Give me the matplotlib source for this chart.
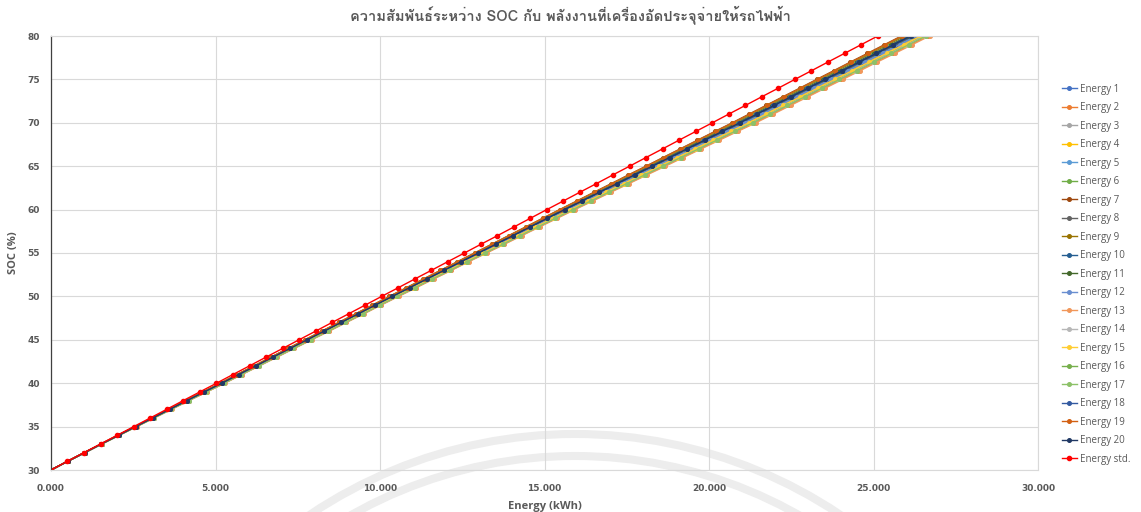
import matplotlib

matplotlib.use("Agg")
import matplotlib.pyplot as plt
from matplotlib import font_manager
from matplotlib.ft2font import FT2Font
from matplotlib.patches import Circle
from matplotlib.ticker import FuncFormatter

# SOC steps (%) at which the charger log was sampled
soc_pct = list(range(30, 81))

# cumulative energy delivered by the charger (kWh) at each SOC step
energy_1 = [0, 0.506, 1.021, 1.537, 2.057, 2.578, 3.104, 3.625, 4.146, 4.677, 5.209, 5.724, 6.250, 6.771, 7.292, 7.813, 8.339, 8.855, 9.381, 9.897, 10.418, 10.944, 11.465, 11.996, 12.517, 13.048, 13.574, 14.100, 14.627, 15.153, 15.679, 16.216, 16.747, 17.289, 17.820, 18.362, 18.894, 19.430, 19.967, 20.503, 21.045, 21.566, 22.087, 22.608, 23.129, 23.650, 24.170, 24.686, 25.212, 25.733, 26.254]
energy_2 = [0, 0.509, 1.028, 1.548, 2.074, 2.600, 3.134, 3.662, 4.190, 4.731, 5.271, 5.793, 6.326, 6.855, 7.381, 7.909, 8.443, 8.964, 9.497, 10.019, 10.547, 11.080, 11.609, 12.149, 12.678, 13.218, 13.754, 14.287, 14.823, 15.358, 15.894, 16.441, 16.984, 17.539, 18.081, 18.636, 19.178, 19.726, 20.276, 20.823, 21.378, 21.906, 22.433, 22.961, 23.487, 24.016, 24.542, 25.063, 25.597, 26.123, 26.649]
energy_3 = [0, 0.507, 1.024, 1.541, 2.064, 2.586, 3.115, 3.639, 4.163, 4.698, 5.232, 5.750, 6.279, 6.803, 7.326, 7.849, 8.378, 8.896, 9.425, 9.943, 10.467, 10.995, 11.519, 12.054, 12.578, 13.112, 13.642, 14.171, 14.701, 15.230, 15.760, 16.301, 16.837, 17.383, 17.919, 18.466, 19.001, 19.542, 20.084, 20.624, 21.171, 21.695, 22.218, 22.741, 23.264, 23.788, 24.311, 24.829, 25.358, 25.880, 26.403]
energy_4 = [0, 0.506, 1.023, 1.539, 2.061, 2.583, 3.111, 3.634, 4.157, 4.690, 5.224, 5.741, 6.269, 6.792, 7.314, 7.836, 8.364, 8.881, 9.409, 9.926, 10.449, 10.977, 11.500, 12.033, 12.556, 13.089, 13.618, 14.146, 14.674, 15.203, 15.731, 16.270, 16.805, 17.350, 17.884, 18.429, 18.963, 19.502, 20.042, 20.581, 21.126, 21.649, 22.171, 22.694, 23.216, 23.739, 24.261, 24.778, 25.306, 25.828, 26.350]
energy_5 = [0, 0.506, 1.022, 1.538, 2.059, 2.580, 3.107, 3.629, 4.151, 4.683, 5.215, 5.732, 6.258, 6.780, 7.302, 7.823, 8.350, 8.867, 9.393, 9.910, 10.432, 10.958, 11.480, 12.012, 12.534, 13.066, 13.594, 14.120, 14.648, 15.175, 15.702, 16.240, 16.773, 17.316, 17.848, 18.392, 18.924, 19.462, 20.000, 20.538, 21.081, 21.603, 22.124, 22.646, 23.167, 23.689, 24.210, 24.727, 25.254, 25.775, 26.296]
energy_6 = [0, 0.508, 1.026, 1.543, 2.068, 2.592, 3.122, 3.648, 4.174, 4.711, 5.248, 5.767, 6.297, 6.823, 7.347, 7.873, 8.403, 8.923, 9.453, 9.972, 10.498, 11.029, 11.554, 12.091, 12.617, 13.154, 13.686, 14.216, 14.748, 15.280, 15.812, 16.356, 16.894, 17.444, 17.982, 18.532, 19.071, 19.614, 20.159, 20.702, 21.252, 21.778, 22.302, 22.827, 23.352, 23.877, 24.401, 24.921, 25.451, 25.975, 26.500]
energy_7 = [0, 0.502, 1.013, 1.525, 2.040, 2.555, 3.074, 3.587, 4.100, 4.622, 5.144, 5.654, 6.172, 6.686, 7.201, 7.714, 8.233, 8.743, 9.261, 9.771, 10.284, 10.803, 11.316, 11.838, 12.351, 12.873, 13.390, 13.908, 14.425, 14.942, 15.459, 15.984, 16.504, 17.032, 17.552, 18.081, 18.601, 19.126, 19.649, 20.175, 20.703, 21.216, 21.731, 22.245, 22.760, 23.273, 23.788, 24.298, 24.817, 25.332, 25.847]
energy_8 = [0, 0.505, 1.020, 1.535, 2.055, 2.575, 3.100, 3.620, 4.140, 4.670, 5.200, 5.715, 6.240, 6.760, 7.280, 7.800, 8.325, 8.840, 9.365, 9.880, 10.400, 10.925, 11.445, 11.975, 12.495, 13.025, 13.550, 14.075, 14.600, 15.125, 15.650, 16.185, 16.715, 17.255, 17.785, 18.325, 18.855, 19.390, 19.925, 20.460, 21.000, 21.520, 22.040, 22.560, 23.080, 23.600, 24.120, 24.635, 25.160, 25.680, 26.200]
energy_9 = [0, 0.503, 1.015, 1.528, 2.045, 2.561, 3.082, 3.597, 4.112, 4.637, 5.161, 5.672, 6.193, 6.708, 7.225, 7.740, 8.261, 8.772, 9.293, 9.804, 10.319, 10.840, 11.355, 11.880, 12.395, 12.919, 13.438, 13.959, 14.478, 14.997, 15.517, 16.045, 16.568, 17.100, 17.623, 18.155, 18.678, 19.206, 19.733, 20.261, 20.793, 21.308, 21.825, 22.340, 22.857, 23.372, 23.889, 24.400, 24.921, 25.437, 25.954]
energy_10 = [0, 0.504, 1.019, 1.533, 2.053, 2.572, 3.096, 3.615, 4.134, 4.663, 5.191, 5.706, 6.230, 6.749, 7.268, 7.787, 8.311, 8.825, 9.349, 9.863, 10.382, 10.906, 11.425, 11.954, 12.473, 13.002, 13.526, 14.050, 14.573, 15.097, 15.621, 16.154, 16.683, 17.221, 17.750, 18.288, 18.816, 19.350, 19.883, 20.417, 20.955, 21.474, 21.993, 22.512, 23.031, 23.550, 24.070, 24.584, 25.108, 25.627, 26.146]
energy_11 = [0, 0.504, 1.017, 1.531, 2.049, 2.567, 3.089, 3.606, 4.123, 4.650, 5.176, 5.689, 6.211, 6.728, 7.246, 7.764, 8.286, 8.799, 9.321, 9.834, 10.351, 10.873, 11.390, 11.917, 12.434, 12.961, 13.482, 14.004, 14.526, 15.047, 15.569, 16.100, 16.625, 17.160, 17.686, 18.221, 18.747, 19.278, 19.808, 20.339, 20.874, 21.391, 21.909, 22.426, 22.944, 23.461, 23.979, 24.492, 25.014, 25.532, 26.050]
energy_12 = [0, 0.506, 1.022, 1.538, 2.060, 2.582, 3.109, 3.631, 4.153, 4.686, 5.219, 5.735, 6.263, 6.785, 7.306, 7.829, 8.356, 8.872, 9.400, 9.916, 10.439, 10.966, 11.488, 12.021, 12.543, 13.076, 13.603, 14.131, 14.658, 15.186, 15.714, 16.252, 16.785, 17.329, 17.863, 18.406, 18.940, 19.478, 20.017, 20.555, 21.099, 21.621, 22.143, 22.665, 23.187, 23.709, 24.231, 24.747, 25.274, 25.796, 26.318]
energy_13 = [0, 0.510, 1.029, 1.549, 2.076, 2.603, 3.138, 3.667, 4.196, 4.738, 5.280, 5.802, 6.336, 6.866, 7.393, 7.922, 8.457, 8.979, 9.513, 10.035, 10.565, 11.099, 11.628, 12.170, 12.699, 13.241, 13.778, 14.312, 14.849, 15.386, 15.923, 16.472, 17.016, 17.572, 18.116, 18.673, 19.217, 19.766, 20.317, 20.867, 21.423, 21.952, 22.479, 23.009, 23.536, 24.065, 24.592, 25.114, 25.649, 26.176, 26.703]
energy_14 = [0, 0.508, 1.027, 1.545, 2.070, 2.595, 3.126, 3.653, 4.180, 4.718, 5.256, 5.776, 6.308, 6.834, 7.359, 7.886, 8.417, 8.937, 9.469, 9.989, 10.516, 11.047, 11.574, 12.112, 12.639, 13.177, 13.710, 14.242, 14.775, 15.308, 15.841, 16.386, 16.926, 17.478, 18.018, 18.569, 19.109, 19.654, 20.201, 20.745, 21.297, 21.824, 22.349, 22.875, 23.400, 23.927, 24.452, 24.972, 25.503, 26.028, 26.553]
energy_15 = [0, 0.507, 1.025, 1.542, 2.065, 2.589, 3.118, 3.643, 4.168, 4.703, 5.239, 5.758, 6.287, 6.812, 7.335, 7.860, 8.389, 8.908, 9.437, 9.956, 10.481, 11.010, 11.535, 12.070, 12.595, 13.131, 13.662, 14.191, 14.722, 15.253, 15.783, 16.325, 16.862, 17.410, 17.947, 18.495, 19.032, 19.574, 20.117, 20.659, 21.207, 21.732, 22.255, 22.780, 23.303, 23.828, 24.351, 24.870, 25.399, 25.923, 26.446]
energy_16 = [0, 0.502, 1.014, 1.527, 2.042, 2.558, 3.078, 3.592, 4.106, 4.629, 5.152, 5.663, 6.183, 6.697, 7.213, 7.727, 8.247, 8.757, 9.277, 9.788, 10.302, 10.821, 11.336, 11.859, 12.373, 12.896, 13.414, 13.934, 14.452, 14.970, 15.488, 16.014, 16.536, 17.066, 17.588, 18.118, 18.639, 19.166, 19.691, 20.218, 20.748, 21.262, 21.778, 22.293, 22.808, 23.323, 23.839, 24.349, 24.869, 25.385, 25.900]
energy_17 = [0, 0.509, 1.027, 1.546, 2.072, 2.597, 3.130, 3.657, 4.184, 4.724, 5.263, 5.783, 6.316, 6.843, 7.369, 7.896, 8.429, 8.949, 9.482, 10.002, 10.530, 11.062, 11.589, 12.129, 12.656, 13.195, 13.729, 14.262, 14.796, 15.330, 15.865, 16.411, 16.952, 17.505, 18.046, 18.599, 19.140, 19.686, 20.234, 20.780, 21.333, 21.860, 22.386, 22.913, 23.439, 23.966, 24.492, 25.012, 25.545, 26.070, 26.596]
energy_18 = [0, 0.504, 1.018, 1.532, 2.051, 2.570, 3.093, 3.611, 4.129, 4.657, 5.185, 5.698, 6.222, 6.740, 7.258, 7.777, 8.300, 8.813, 9.337, 9.850, 10.368, 10.892, 11.410, 11.938, 12.456, 12.984, 13.506, 14.030, 14.552, 15.075, 15.598, 16.130, 16.657, 17.194, 17.722, 18.258, 18.786, 19.318, 19.850, 20.382, 20.919, 21.437, 21.956, 22.474, 22.993, 23.511, 24.030, 24.543, 25.066, 25.585, 26.104]
energy_19 = [0, 0.502, 1.014, 1.526, 2.041, 2.557, 3.076, 3.590, 4.104, 4.626, 5.149, 5.659, 6.178, 6.692, 7.208, 7.722, 8.241, 8.751, 9.270, 9.781, 10.295, 10.814, 11.328, 11.850, 12.364, 12.887, 13.404, 13.923, 14.441, 14.958, 15.476, 16.002, 16.523, 17.052, 17.573, 18.103, 18.624, 19.150, 19.674, 20.200, 20.730, 21.244, 21.759, 22.273, 22.789, 23.303, 23.818, 24.329, 24.848, 25.363, 25.879]
energy_20 = [0, 0.504, 1.019, 1.533, 2.052, 2.571, 3.094, 3.613, 4.132, 4.660, 5.188, 5.702, 6.226, 6.744, 7.263, 7.782, 8.305, 8.819, 9.343, 9.857, 10.375, 10.899, 11.418, 11.946, 12.465, 12.993, 13.516, 14.040, 14.563, 15.086, 15.609, 16.142, 16.670, 17.208, 17.736, 18.273, 18.801, 19.334, 19.867, 20.399, 20.937, 21.456, 21.975, 22.493, 23.012, 23.531, 24.050, 24.564, 25.087, 25.606, 26.125]
energy_std = [0, 0.495, 1.000, 1.505, 2.010, 2.515, 3.020, 3.520, 4.020, 4.525, 5.030, 5.530, 6.035, 6.535, 7.040, 7.540, 8.045, 8.545, 9.050, 9.550, 10.050, 10.555, 11.055, 11.560, 12.060, 12.565, 13.065, 13.570, 14.070, 14.570, 15.070, 15.575, 16.075, 16.580, 17.080, 17.585, 18.085, 18.590, 19.090, 19.595, 20.100, 20.600, 21.105, 21.605, 22.110, 22.610, 23.115, 23.615, 24.120, 24.625, 25.130]

runs = [energy_1, energy_2, energy_3, energy_4, energy_5, energy_6, energy_7,
        energy_8, energy_9, energy_10, energy_11, energy_12, energy_13, energy_14,
        energy_15, energy_16, energy_17, energy_18, energy_19, energy_20]
run_labels = [f"Energy {i}" for i in range(1, 21)]
run_colors = ["#4472C4", "#ED7D31", "#A5A5A5", "#FFC000", "#5B9BD5", "#70AD47",
              "#9E480E", "#636363", "#997300", "#255E91", "#43682B", "#698ED0",
              "#F1975A", "#B7B7B7", "#FFCD33", "#76AF4C", "#8CC168", "#335AA1",
              "#D26012", "#203864"]

x_ticks = [0, 5, 10, 15, 20, 25, 30]
y_ticks = [30, 35, 40, 45, 50, 55, 60, 65, 70, 75, 80]

TITLE = "ความสัมพันธ์ระหว่าง SOC กับ พลังงานที่เครื่องอัดประจุจ่ายให้รถไฟฟ้า"
INK = "#595959"
GRID = "#D9D9D9"


def thai_family():
    """First installed family that carries Thai glyphs."""
    for entry in font_manager.fontManager.ttflist:
        try:
            if 0x0E04 in FT2Font(entry.fname).get_charmap():
                return entry.name
        except (OSError, RuntimeError):
            continue
    return "DejaVu Sans"


fig = plt.figure(figsize=(11.41, 5.12), dpi=100, facecolor="white")

# faint seal printed behind the chart (pixel coordinates)
bg = fig.add_axes([0, 0, 1, 1], zorder=0)
bg.set_xlim(0, 1141)
bg.set_ylim(512, 0)
bg.axis("off")
for r in (476, 454):
    bg.add_patch(Circle((575, 910), r, fill=False, edgecolor="#EDEDED", linewidth=5.8))

ax = fig.add_axes([51 / 1141, 42 / 512, 987 / 1141, 434 / 512], zorder=1)
ax.set_facecolor("none")

for xs, label, color in zip(runs, run_labels, run_colors):
    ax.plot(xs, soc_pct, color=color, linewidth=1.0, marker="o", markersize=2.6,
            label=label)
ax.plot(energy_std, soc_pct, color="#FF0000", linewidth=1.0, marker="o",
        markersize=3.0, label="Energy std.")

ax.set_xlim(0, 30)
ax.set_ylim(30, 80)
ax.set_xticks(x_ticks)
ax.set_yticks(y_ticks)
ax.xaxis.set_major_formatter(FuncFormatter(lambda v, _: f"{v:.3f}"))
ax.grid(True, color=GRID, linewidth=0.8)
ax.set_axisbelow(True)
for side in ("top", "right", "bottom"):
    ax.spines[side].set_color(GRID)
    ax.spines[side].set_linewidth(0.8)
ax.spines["left"].set_color("#404040")
ax.spines["left"].set_linewidth(0.9)

ax.tick_params(length=0, labelsize=6.5, labelcolor=INK)
ax.tick_params(axis="x", pad=10)
ax.tick_params(axis="y", pad=8)
for lab in ax.get_xticklabels() + ax.get_yticklabels():
    lab.set_fontweight("bold")

ax.set_xlabel("Energy (kWh)", fontsize=8, fontweight="bold", color=INK,
              family="Open Sans", labelpad=6)
ax.set_ylabel("SOC (%)", fontsize=8, fontweight="bold", color=INK,
              family="Open Sans", labelpad=6)

fig.text(0.5, 1 - 15 / 512, TITLE, ha="center", va="center", fontsize=10.5,
         fontweight="bold", color=INK, family=[thai_family(), "DejaVu Sans"])

ax.legend(loc="upper left", bbox_to_anchor=(1058 / 1141, 1 - 80 / 512),
          bbox_transform=fig.transFigure, frameon=False, handlelength=1.55,
          handletextpad=0.3, labelspacing=0.77, borderaxespad=0,
          prop={"family": "Open Sans", "size": 7}, labelcolor=INK)

fig.savefig("out.png", dpi=100)
